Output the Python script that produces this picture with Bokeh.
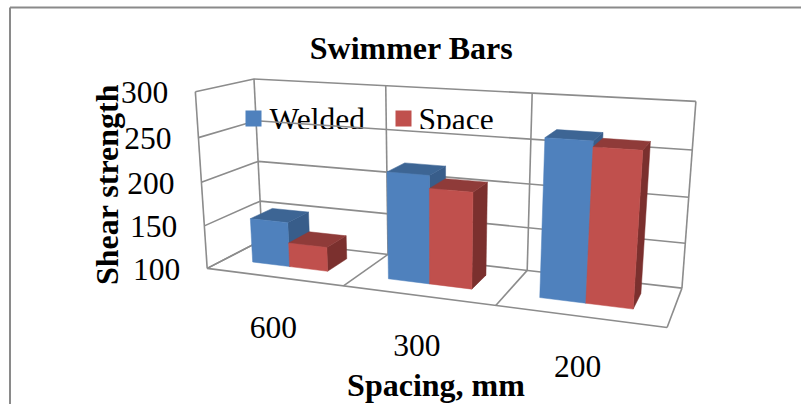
import numpy as np
from bokeh.plotting import figure
from bokeh.embed import file_html
from bokeh.resources import INLINE
from bokeh.core.properties import value

title = "Swimmer Bars"
x_title = "Spacing, mm"
y_title = "Shear strength"
categories = ["600", "300", "200"]
series_names = ["Welded", "Space"]
welded = [152, 220, 268]
space = [128, 206, 262]
y_ticks = [100, 150, 200, 250, 300]

FRONT = ["#4F81BD", "#C0504D"]
TOP = ["#3D6594", "#8F3B39"]
SIDE = ["#385D8A", "#7B302E"]
GRID = "#8C8C8C"
FONT = value("Liberation Serif")

# camera of the 3D chart: (group position, value, depth) -> picture position
cage = [
    (0, 300, 0, 194, 92), (0, 250, 0, 198, 137), (0, 200, 0, 202, 181), (0, 150, 0, 204, 225), (0, 100, 0, 206, 268),
    (0, 300, 1, 253, 78), (0, 100, 1, 262, 240),
    (3, 300, 1, 695, 100), (3, 100, 1, 682, 287),
    (3, 100, 0, 666, 328),
    (1, 300, 1, 386, 86), (1, 100, 1, 387, 254),
    (2, 300, 1, 532, 93), (2, 100, 1, 526, 270),
    (1, 100, 0, 343, 285), (2, 100, 0, 496, 305),
]
rows, rhs = [], []
for gx, v, d, px, py in cage:
    v = v / 100
    rows.append([gx, v, d, 1, 0, 0, 0, 0, -px * gx, -px * v, -px * d]); rhs.append(px)
    rows.append([0, 0, 0, 0, gx, v, d, 1, -py * gx, -py * v, -py * d]); rhs.append(py)
m = np.linalg.lstsq(np.array(rows, float), np.array(rhs, float), rcond=None)[0]
M = np.append(m, 1).reshape(3, 4)


def proj(gx, v, d):
    h = M @ np.array([gx, v / 100, d, 1.0])
    return h[0] / h[2], h[1] / h[2]


def path(*pts):
    xy = [proj(*q) for q in pts]
    return [a for a, _ in xy], [b for _, b in xy]


p = figure(width=801, height=404, x_range=(0, 801), y_range=(404, 0), output_backend="svg",
           toolbar_location=None, min_border=0, outline_line_color=None, background_fill_color="white")
p.xaxis.visible = False
p.yaxis.visible = False
p.grid.visible = False


def label(x, y, s, bold=False, align="center", angle=0.0, size="31.5px", base="middle"):
    p.text([x], [y], text=[s], text_font=FONT, text_font_size=size, text_align=align, text_baseline=base,
           text_color="black", text_font_style="bold" if bold else "normal", angle=angle)


# picture frame
p.line([9.5, 9.5], [7, 404], line_color="#8A8A8A", line_width=2)
p.line([9.5, 801], [7, 7], line_color="#8A8A8A", line_width=2)

# legend entries (their lower part is cut off in the source)
label(269, 118.5, series_names[0], align="left")
label(418, 118.5, series_names[1], align="left")
p.quad(left=[262], right=[505], top=[128.5], bottom=[138], fill_color="white", line_color=None)

# cage
xs, ys = [], []
for v in y_ticks:
    a, b = path((0, v, 0), (0, v, 1), (3, v, 1))
    xs.append(a); ys.append(b)
for g in range(4):
    a, b = path((g, 100, 1), (g, 300, 1))
    xs.append(a); ys.append(b)
    a, b = path((g, 100, 0), (g, 100, 1))
    xs.append(a); ys.append(b)
a, b = path((0, 100, 0), (0, 300, 0))
xs.append(a); ys.append(b)
a, b = path((0, 100, 0), (3, 100, 0))
xs.append(a); ys.append(b)
p.multi_line(xs, ys, line_color=GRID, line_width=1.6)

p.rect([253], [118], width=16, height=16, fill_color=FRONT[0], line_color=None)
p.rect([403], [118], width=16, height=16, fill_color=FRONT[1], line_color=None)

# bars
X_EDGES = [(0.21, 0.493), (0.493, 0.775)]
Z_FRONT, Z_BACK = 0.32, 0.73
for g in range(len(categories)):
    for s, vals in enumerate([welded, space]):
        x0, x1 = g + X_EDGES[s][0], g + X_EDGES[s][1]
        v = vals[g]
        a, b = path((x1, 100, Z_FRONT), (x1, 100, Z_BACK), (x1, v, Z_BACK), (x1, v, Z_FRONT))
        p.patch(a, b, fill_color=SIDE[s], line_color=SIDE[s], line_width=0.5)
        a, b = path((x0, v, Z_FRONT), (x1, v, Z_FRONT), (x1, v, Z_BACK), (x0, v, Z_BACK))
        p.patch(a, b, fill_color=TOP[s], line_color=TOP[s], line_width=0.5)
        a, b = path((x0, 100, Z_FRONT), (x1, 100, Z_FRONT), (x1, v, Z_FRONT), (x0, v, Z_FRONT))
        p.patch(a, b, fill_color=FRONT[s], line_color=FRONT[s], line_width=0.5)

# texts
label(411, 47.5, title, bold=True, size="32px")
label(435.5, 384, x_title, bold=True, size="32px")
label(106.5, 184, y_title, bold=True, angle=np.pi / 2, size="32px")
for v in y_ticks:
    tx, ty = proj(0, v, 0)
    label(tx - 27, ty + 1, str(v), align="right")
for g, c in enumerate(categories):
    tx, ty = proj(g + 0.47, 100, 0)
    label(tx + 4, ty + 51, c)

open("out.html", "w").write(file_html(p, INLINE))
